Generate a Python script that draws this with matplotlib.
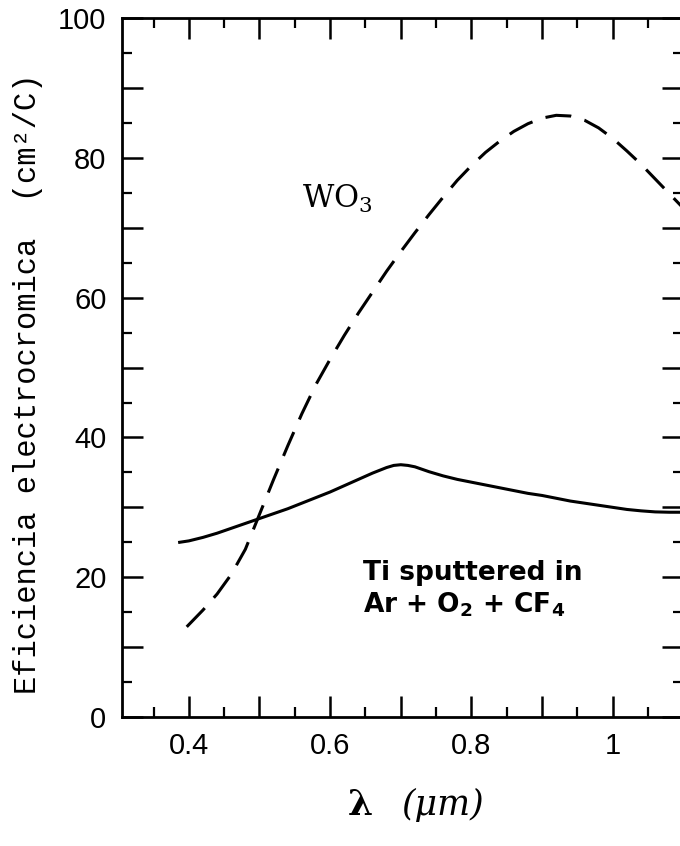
import matplotlib
matplotlib.use("Agg")
import matplotlib.pyplot as plt
from matplotlib.ticker import MultipleLocator, FuncFormatter

# WO3 (dashed)
wo3_x = [0.397, 0.42, 0.44, 0.46, 0.48, 0.50, 0.52, 0.54, 0.56, 0.58,
         0.60, 0.62, 0.64, 0.66, 0.68, 0.70, 0.72, 0.74, 0.76, 0.78,
         0.80, 0.82, 0.84, 0.86, 0.88, 0.90, 0.92, 0.94, 0.96, 0.98,
         1.00, 1.02, 1.04, 1.06, 1.08, 1.10]
wo3_y = [12.9, 15.3, 17.6, 20.4, 24.0, 29.0, 34.0, 38.8, 43.4, 47.6,
         51.2, 54.6, 57.8, 60.8, 63.8, 66.6, 69.3, 71.9, 74.4, 76.8,
         78.9, 80.8, 82.4, 83.8, 84.9, 85.7, 86.1, 86.0, 85.4, 84.3,
         82.8, 81.0, 79.1, 77.0, 74.9, 72.8]

# Ti sputtered in Ar+O2+CF4 (solid)
ti_x = [0.387, 0.40, 0.42, 0.44, 0.46, 0.48, 0.50, 0.52, 0.54, 0.56,
        0.58, 0.60, 0.62, 0.64, 0.66, 0.68, 0.69, 0.70, 0.71, 0.72,
        0.74, 0.76, 0.78, 0.80, 0.82, 0.84, 0.86, 0.88, 0.90, 0.92,
        0.94, 0.96, 0.98, 1.00, 1.02, 1.04, 1.06, 1.08, 1.10]
ti_y = [25.0, 25.2, 25.7, 26.3, 27.0, 27.7, 28.4, 29.1, 29.8, 30.6,
        31.4, 32.2, 33.1, 34.0, 34.9, 35.7, 36.0, 36.1, 36.0, 35.8,
        35.1, 34.5, 34.0, 33.6, 33.2, 32.8, 32.4, 32.0, 31.7, 31.3,
        30.9, 30.6, 30.3, 30.0, 29.7, 29.5, 29.35, 29.3, 29.3]

x_labels = {4: "0.4", 6: "0.6", 8: "0.8", 10: "1"}
y_labels = [0, 20, 40, 60, 80, 100]

fig = plt.figure(figsize=(6.8, 8.46), dpi=100)
ax = fig.add_axes([0.179, 0.1525, 0.826, 0.826])

ax.plot(wo3_x, wo3_y, color="black", lw=2.2, linestyle=(0, (8.5, 4.5)))
ax.plot(ti_x, ti_y, color="black", lw=2.2)

ax.set_xlim(0.305, 1.1)
ax.set_ylim(0, 100)

# long ticks every 0.1 / 10, short ones in between; only some get labels
ax.xaxis.set_major_locator(MultipleLocator(0.1))
ax.xaxis.set_minor_locator(MultipleLocator(0.05))
ax.yaxis.set_major_locator(MultipleLocator(10))
ax.yaxis.set_minor_locator(MultipleLocator(5))
ax.xaxis.set_major_formatter(FuncFormatter(
    lambda v, p: x_labels.get(int(round(v * 10)), "")))
ax.yaxis.set_major_formatter(FuncFormatter(
    lambda v, p: str(int(round(v))) if int(round(v)) in y_labels else ""))

ax.tick_params(which="major", direction="in", length=15, width=1.8,
               top=True, right=True, labelsize=21, pad=11)
ax.tick_params(which="minor", direction="in", length=7, width=1.6,
               top=True, right=True)
for lab in ax.get_xticklabels() + ax.get_yticklabels():
    lab.set_family("Liberation Sans")

for s in ax.spines.values():
    s.set_linewidth(2.0)

ax.text(0.56, 72.9, r"WO$_\mathregular{3}$", family="DejaVu Serif",
        fontsize=22)
ax.text(0.646, 19.6, "Ti sputtered in", family="DejaVu Sans",
        weight="bold", fontsize=19)
ax.text(0.646, 14.9, r"Ar + O$_\mathregular{2}$ + CF$_\mathregular{4}$",
        family="DejaVu Sans", weight="bold", fontsize=19)

fig.text(28 / 680, 1 - 384 / 846, "Eficiencia electrocromica  (cm²/C)",
         rotation=90, family="Liberation Mono", fontsize=22,
         ha="center", va="center")

fig.text(360 / 680, 1 - 805 / 846, "λ", family="DejaVu Serif",
         weight="bold", fontsize=26, ha="center", va="center")
fig.text(443 / 680, 1 - 805 / 846, "(μm)", family="DejaVu Serif",
         style="italic", fontsize=25, ha="center", va="center")

fig.savefig("out.png", dpi=100)
